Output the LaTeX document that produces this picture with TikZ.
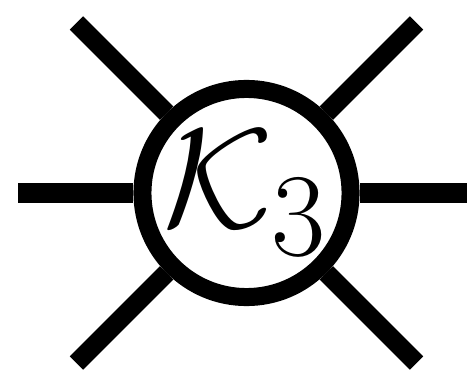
\documentclass[tikz,border=0pt]{standalone}
\usepackage{amsmath, amssymb}
\usepackage{graphicx}
\usepackage{tikz}
\usetikzlibrary{positioning}
\tikzset{
  vtxnode/.style={circle,draw=black,fill=white,line width=0.18cm,minimum size=2.08cm,inner sep=0pt,font=\Huge},
  legedge/.style={line width=0.19cm,black,line cap=butt},
}

\begin{document}
\begin{tikzpicture}[x=0.01cm,y=-0.01cm]
  \useasboundingbox (0,0) rectangle (467,370);
  \coordinate (eUL) at (76.5,23);
  \coordinate (eUR) at (416.5,23);
  \coordinate (eL) at (18,193);
  \coordinate (eR) at (467,193);
  \coordinate (eDL) at (76.5,363);
  \coordinate (eDR) at (416.5,363);
  \node[vtxnode] (nK) at (246.5,193) {\scalebox{1.62}{$\mathcal{K}_{3}$}};
  \foreach \e in {eUL,eUR,eL,eR,eDL,eDR}
    \draw[legedge] (\e) -- (nK);
\end{tikzpicture}
\end{document}
